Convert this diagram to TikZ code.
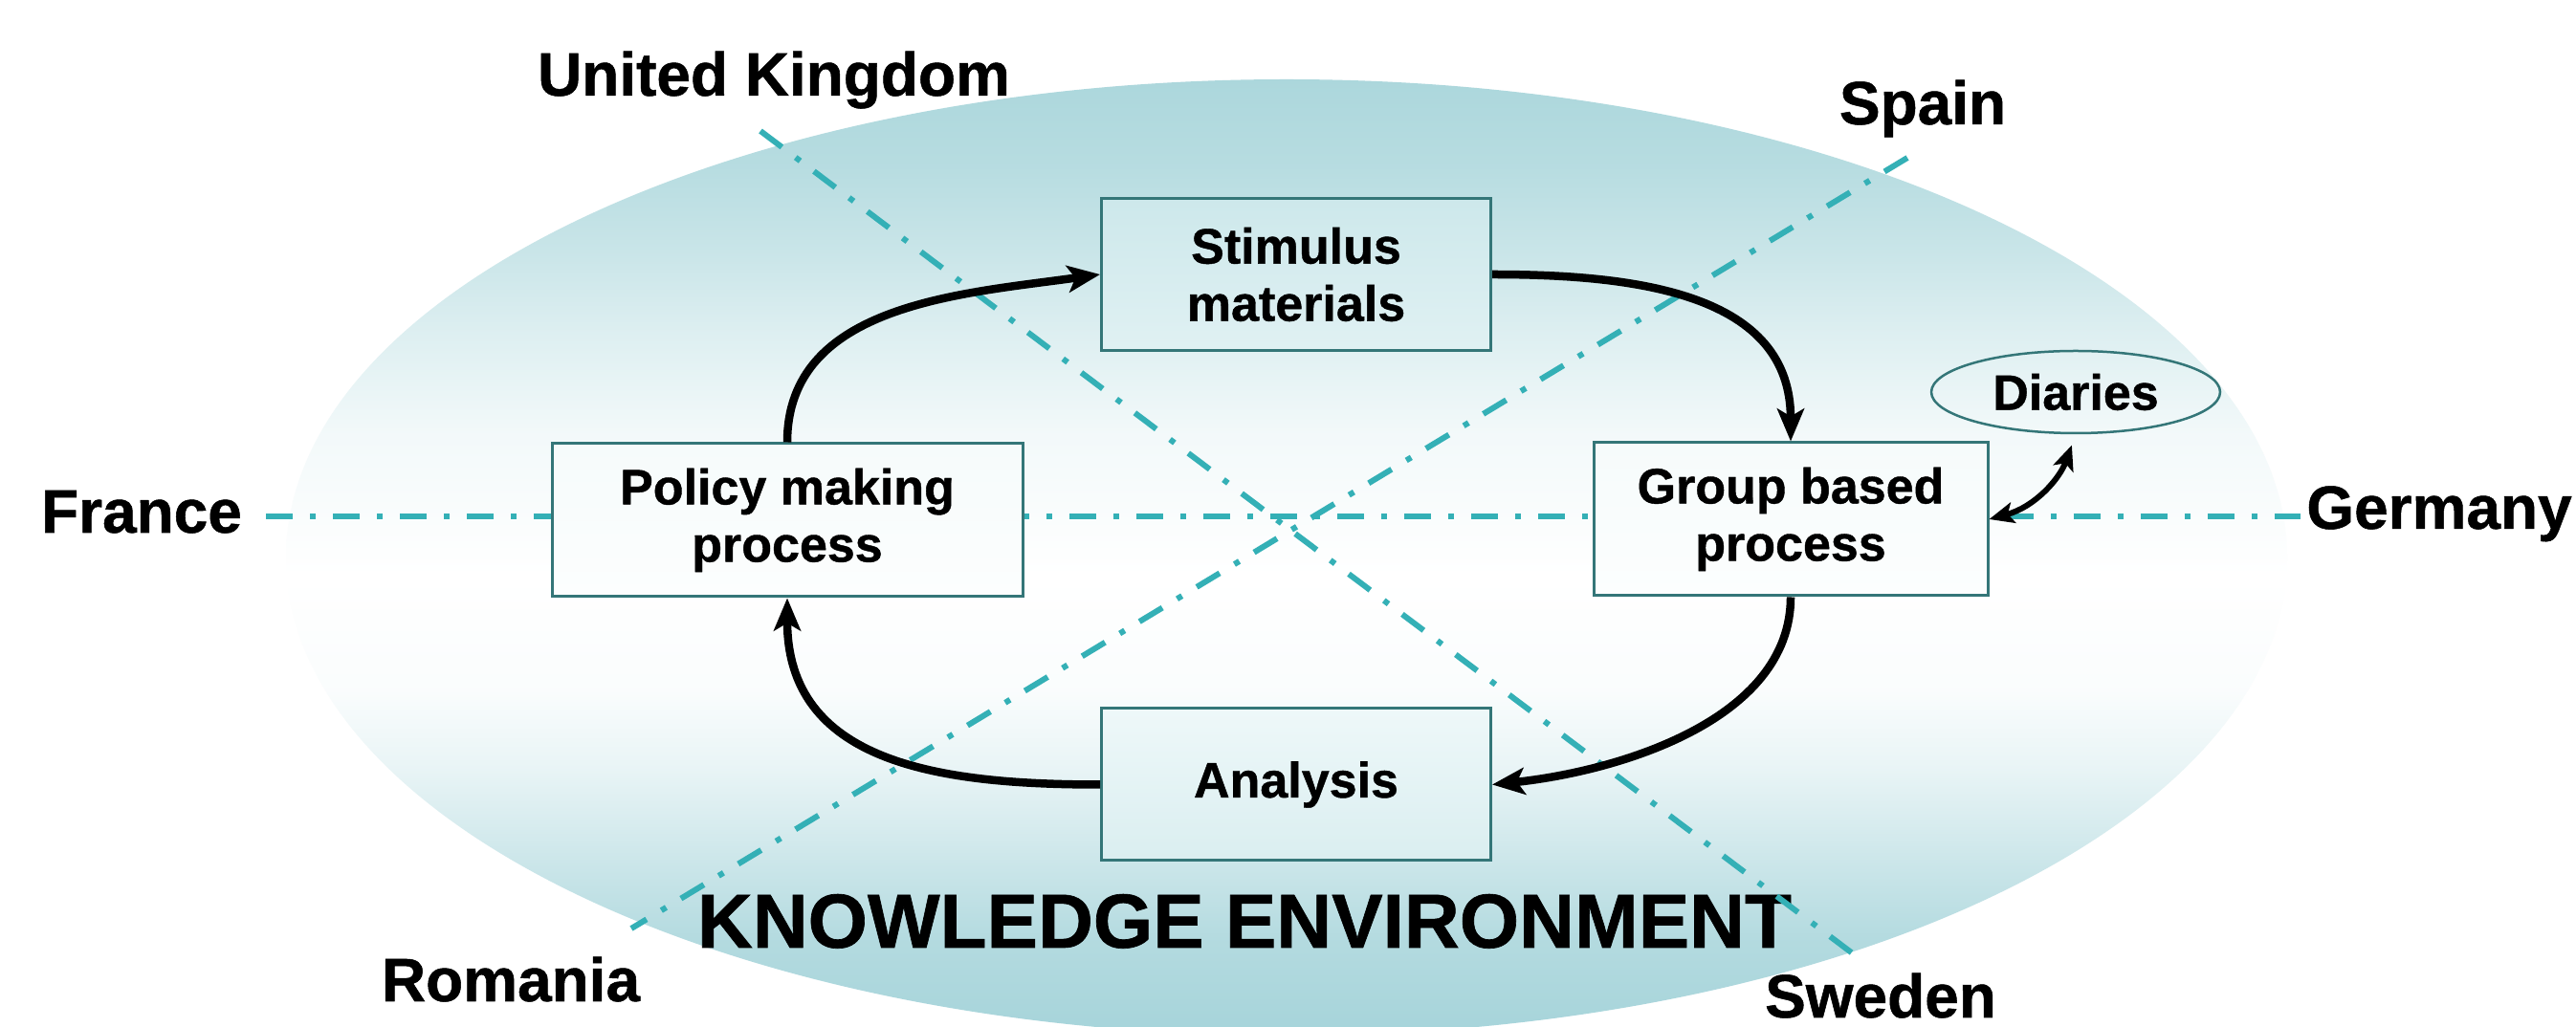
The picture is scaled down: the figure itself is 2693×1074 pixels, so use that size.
\documentclass[tikz,border=0pt]{standalone}
\usepackage{fontspec}
\setmainfont{Liberation Sans}[BoldFeatures={FakeBold=0.8}]
\usetikzlibrary{arrows.meta,shapes.geometric}
\definecolor{tealT}{RGB}{172,215,220}
\definecolor{tealB}{RGB}{166,212,218}
\definecolor{dashcol}{RGB}{52,176,182}
\definecolor{boxline}{RGB}{52,118,120}
\pgfdeclareverticalshading{kenv}{100bp}{color(0bp)=(tealB); color(25bp)=(tealB); color(30bp)=(tealB!85!white); color(34.5bp)=(tealB!55!white); color(39bp)=(tealB!25!white); color(43bp)=(tealB!6!white); color(49bp)=(white); color(56.5bp)=(tealT!15!white); color(62bp)=(tealT!42!white); color(66bp)=(tealT!65!white); color(70.5bp)=(tealT!87!white); color(75bp)=(tealT); color(100bp)=(tealT)}
\begin{document}
\begin{tikzpicture}[x=0.1mm,y=0.1mm,
  country/.style={font=\fontsize{18.2}{21}\selectfont\bfseries, inner sep=0pt, anchor=base},
  procbox/.style={draw=boxline, line width=0.3mm, align=center, inner sep=0pt,
    font=\fontsize{14.8}{17.07}\selectfont\bfseries},
  guide/.style={draw=dashcol, line width=0.6mm, dash pattern=on 2.8mm off 1.8mm on 0.6mm off 1.8mm},
  flow/.style={line width=0.85mm, -{Stealth[length=3.4mm,width=2.8mm,inset=0.8mm]}},
  dflow/.style={line width=0.6mm, {Stealth[length=2.6mm,width=2.2mm,inset=0.6mm]}-{Stealth[length=2.6mm,width=2.2mm,inset=0.6mm]}},
]
\useasboundingbox (0,0) rectangle (2693,-1074);
\fill[white] (0,0) rectangle (2693,-1074);
% knowledge environment ellipse
\shade[shading=kenv] (1345,-583) ellipse [x radius=1046, y radius=500];

% country labels
\node[country] (uk) at (809,-100) {United Kingdom};
\node[country] (es) at (2010,-130) {Spain};
\node[country] (fr) at (148,-557) {France};
\node[country] (de) at (2550,-553) {Germany};
\node[country] (ro) at (534,-1047) {Romania};
\node[country] (se) at (1966,-1064) {Sweden};
\node[font=\fontsize{22.8}{26}\selectfont\bfseries, anchor=base, inner sep=0pt] (ke) at (1301,-991) {KNOWLEDGE ENVIRONMENT};

% guide line ends
\coordinate (ukline) at (795,-137);
\coordinate (seline) at (1938,-998);
\coordinate (esline) at (1994,-165);
\coordinate (roline) at (660,-971);
\coordinate (frline) at (278,-540);
\coordinate (deline) at (2405,-540);

\draw[guide] (frline) -- (deline);
\draw[guide] (ukline) -- (seline);
\draw[guide] (esline) -- (roline);

% process boxes
\node[procbox, minimum width=40.7mm, minimum height=15.9mm,
  top color={rgb,255:red,205;green,232;blue,235}, bottom color={rgb,255:red,224;green,241;blue,243}]
  (sti) at (1355,-287) {Stimulus\\materials};
\node[procbox, minimum width=49.2mm, minimum height=16mm,
  top color={rgb,255:red,246;green,251;blue,251}, bottom color={rgb,255:red,252;green,254;blue,254}]
  (pol) at (823,-544) {Policy making\\process};
\node[procbox, minimum width=41.2mm, minimum height=16mm,
  top color={rgb,255:red,246;green,251;blue,251}, bottom color={rgb,255:red,252;green,254;blue,254}]
  (grp) at (1872,-543) {Group based\\process};
\node[procbox, minimum width=40.7mm, minimum height=15.9mm,
  top color={rgb,255:red,238;green,248;blue,249}, bottom color={rgb,255:red,218;green,238;blue,240}]
  (ana) at (1355,-820.5) {Analysis};
\node[ellipse, draw=boxline, line width=0.25mm, minimum width=30.2mm, minimum height=8.6mm, inner sep=0pt,
  font=\fontsize{14.8}{17}\selectfont\bfseries] (dia) at (2170,-410) {Diaries};

% cycle arrows
\draw[flow] (pol.north) to[out=90, in=188] (sti.west);
\draw[flow] (sti.east) to[out=0, in=90, looseness=1.1] (grp.north);
\draw[flow] (grp.south) to[out=-90, in=6, looseness=0.9] (ana.east);
\draw[flow] (ana.west) to[out=180, in=-90, looseness=1.15] (pol.south);
\draw[dflow, shorten >=1.2mm] (grp.east) to[out=15, in=-110] (dia.south);
\end{tikzpicture}
\end{document}
